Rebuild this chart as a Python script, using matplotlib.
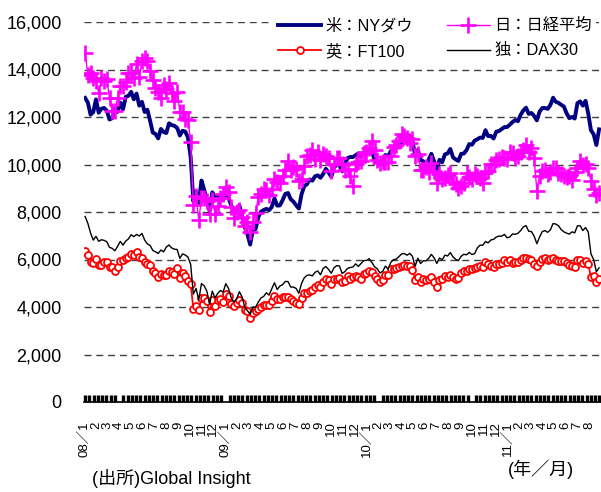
import numpy as np
import pandas as pd
import matplotlib
matplotlib.use("Agg")
import matplotlib.pyplot as plt
import matplotlib.dates as mdates

plt.rcParams['font.family'] = ['Liberation Sans', 'Noto Sans CJK JP']

# weekly closes (Fridays), Jan 2008 - Aug 2011
weeks = pd.date_range('2008-01-04', '2011-08-26', freq='W-FRI')

dow = [
    # 2008
    12800, 12606, 12099, 12207, 12743, 12182, 12348, 12381, 12266, 11894, 11951, 12361, 12216,
    12609, 12325, 12849, 12891, 13058, 12745, 12986, 12480, 12638, 12209, 12307, 11843, 11346,
    11288, 11100, 11496, 11370, 11326, 11734, 11659, 11628, 11543, 11220, 11421, 11388, 11143,
    10325, 8451, 8852, 8378, 9325, 8943, 8497, 8046, 8829, 8635, 8629, 8579, 8515,
    # 2009
    9034, 8599, 8281, 8077, 8000, 8280, 7850, 7366, 7063, 6627, 7224, 7278, 7776,
    8018, 8083, 8131, 8076, 8212, 8575, 8268, 8277, 8500, 8764, 8799, 8539, 8438,
    8280, 8146, 8743, 9093, 9171, 9370, 9321, 9505, 9544, 9441, 9605, 9820, 9665,
    9487, 9865, 9995, 9972, 9713, 10023, 10270, 10318, 10310, 10388, 10471, 10329, 10520,
    # 2010
    10428, 10618, 10610, 10173, 10067, 10012, 10099, 10402, 10325, 10566, 10625, 10742, 10850,
    10927, 10997, 11019, 11204, 11009, 10380, 10620, 10193, 10137, 9931, 10211, 10450, 10144,
    9800, 10198, 10097, 10425, 10466, 10654, 10303, 10213, 10150, 10448, 10462, 10607, 10860,
    10830, 11006, 11063, 11133, 11118, 11445, 11193, 11204, 11093, 11382, 11410, 11492, 11573, 11578,
    # 2011
    11675, 11787, 11871, 11824, 12092, 12273, 12391, 12130, 12170, 12044, 11859, 12221,
    12377, 12380, 12342, 12505, 12811, 12638, 12596, 12512, 12441, 12151, 11952, 12004, 11934,
    12582, 12657, 12480, 12681, 12143, 11444, 11269, 10818, 11480,
]

nikkei = [
    # 2008
    14691, 13764, 13861, 13629, 13497, 13017, 13622, 13500, 13603, 12782, 12241, 12260, 12821,
    13294, 13323, 13476, 13863, 13849, 13655, 14219, 13690, 14338, 14489, 14355, 13942, 13544,
    13237, 13039, 12803, 13334, 13168, 13431, 13019, 12666, 13073, 12212, 12214, 11920, 11893,
    10938, 8276, 8693, 7649, 8577, 8583, 8462, 7910, 8512, 7917, 8235, 8588, 8739,
    # 2009
    9043, 8836, 8230, 7745, 7994, 8076, 7779, 7416, 7568, 7173, 7569, 7945, 8627,
    8749, 8964, 8907, 8707, 8977, 9386, 9265, 9225, 9523, 9768, 10135, 9786, 9877,
    9816, 9287, 9395, 9944, 10357, 10412, 10597, 10238, 10534, 10187, 10444, 10370, 10265,
    9731, 10016, 10258, 10282, 10035, 9789, 9804, 9497, 9081, 10022, 10108, 10142, 10494,
    # 2010
    10546, 10681, 10982, 10590, 10198, 10057, 10092, 10123, 10126, 10368, 10751, 10824, 10996,
    11286, 11204, 11102, 10914, 11057, 10364, 10462, 9784, 9768, 9901, 9705, 10064, 9737,
    9203, 9585, 9408, 9431, 9537, 9642, 9253, 9180, 8991, 9114, 9239, 9626, 9471,
    9404, 9589, 9500, 9427, 9202, 9625, 9724, 10022, 10040, 10178, 10212, 10304, 10279, 10229,
    # 2011
    10541, 10499, 10274, 10360, 10543, 10605, 10842, 10526, 10693, 10254, 8900, 9536,
    9708, 9768, 9591, 9682, 9850, 9859, 9648, 9607, 9521, 9492, 9514, 9351, 9678,
    9868, 10137, 9974, 10010, 9833, 9299, 8963, 8719, 8800,
]

ftse = [
    # 2008
    6348, 6202, 5901, 5869, 6030, 5784, 5787, 5888, 5884, 5699, 5692, 5495, 5692,
    5947, 5965, 6056, 6091, 6215, 6205, 6304, 6087, 6053, 5906, 5803, 5756, 5518,
    5412, 5262, 5378, 5352, 5354, 5529, 5454, 5371, 5637, 5241, 5417, 5311, 5088,
    4980, 3932, 4063, 3883, 4377, 4365, 4233, 3781, 4288, 4049, 4280, 4327, 4217,
    # 2009
    4562, 4448, 4147, 4052, 4150, 4292, 4189, 3889, 3830, 3530, 3754, 3843, 3898,
    4013, 4093, 4086, 4079, 4243, 4462, 4349, 4345, 4418, 4439, 4441, 4345, 4241,
    4189, 4128, 4391, 4577, 4608, 4694, 4729, 4851, 4908, 4851, 5042, 5190, 5140,
    4988, 5162, 5190, 5237, 5045, 5105, 5296, 5195, 5245, 5322, 5261, 5197, 5402,
    # 2010
    5413, 5534, 5455, 5296, 5189, 5060, 5142, 5358, 5355, 5600, 5605, 5650, 5703,
    5744, 5789, 5744, 5723, 5553, 5123, 5262, 5063, 5188, 5126, 5163, 5250, 5046,
    4838, 5132, 5159, 5313, 5258, 5333, 5276, 5195, 5201, 5440, 5501, 5508, 5598,
    5592, 5657, 5704, 5741, 5675, 5875, 5796, 5732, 5669, 5812, 5808, 5872, 5996, 5900,
    # 2011
    5985, 5863, 5896, 5881, 5997, 6063, 6082, 6001, 5990, 5829, 5718, 5900,
    6009, 6055, 5996, 6022, 6070, 5976, 5925, 5948, 5938, 5855, 5765, 5714, 5697,
    5990, 5990, 5843, 5935, 5815, 5247, 5320, 5040, 5200,
]

dax = [
    # 2008
    7808, 7520, 7115, 6816, 6975, 6767, 6832, 6806, 6748, 6513, 6468, 6366, 6559,
    6763, 6605, 6778, 6865, 7044, 6963, 7054, 6988, 7097, 6820, 6655, 6597, 6385,
    6322, 6253, 6401, 6322, 6523, 6612, 6486, 6434, 6422, 6049, 6235, 6189, 6104,
    5797, 4544, 4782, 4296, 4988, 4892, 4663, 4127, 4669, 4381, 4572, 4696, 4629,
    # 2009
    4983, 4783, 4386, 4215, 4338, 4644, 4427, 4001, 3844, 3695, 4000, 3993, 4203,
    4381, 4446, 4599, 4501, 4770, 5021, 4735, 4885, 4941, 5077, 5070, 4839, 4839,
    4781, 4578, 4990, 5229, 5332, 5352, 5309, 5462, 5517, 5355, 5624, 5703, 5581,
    5419, 5654, 5742, 5730, 5415, 5488, 5624, 5663, 5685, 5817, 5709, 5831, 5957,
    # 2010
    5957, 6037, 5875, 5696, 5608, 5434, 5500, 5722, 5598, 5877, 5995, 6013, 6121,
    6235, 6250, 6180, 6259, 6136, 5716, 6056, 5829, 5947, 5939, 6050, 6216, 6071,
    5835, 6066, 5983, 6183, 6148, 6291, 6110, 6005, 5951, 6134, 6219, 6197, 6299,
    6211, 6247, 6491, 6605, 6601, 6754, 6702, 6823, 6848, 6947, 6985, 6982, 7057, 6914,
    # 2011
    6947, 7076, 7062, 7102, 7217, 7371, 7426, 7185, 7178, 6982, 6664, 6946,
    7176, 7217, 7144, 7249, 7514, 7492, 7423, 7257, 7164, 7109, 7069, 7165, 7121,
    7419, 7419, 7220, 7344, 7158, 6236, 5997, 5480, 5650,
]

labels = ['米：NYダウ', '日：日経平均', '英：FT100', '独：DAX30']
y_ticks = np.arange(0, 16001, 2000)
months = pd.date_range('2008-01-01', '2011-08-01', freq='MS')
month_labels = [f'{m.year % 100:02d}／1' if m.month == 1 else str(m.month) for m in months]

fig = plt.figure(figsize=(6.01, 4.92), dpi=100)
ax = fig.add_axes([84 / 601, 90 / 492, 517 / 601, 380 / 492])

ln_dow, = ax.plot(weeks, dow, color='#000080', lw=2.8, zorder=3)
ln_nik, = ax.plot(weeks, nikkei, color='#FF00FF', lw=1.0, marker='+', ms=12, mew=1.9, zorder=4)
ln_ftse, = ax.plot(weeks, ftse, color='#FF0000', lw=1.3, marker='o', ms=5, mew=1.3,
                   mfc='white', zorder=5)
ln_dax, = ax.plot(weeks, dax, color='black', lw=1.0, zorder=6)

ax.set_ylim(0, 16000)
ax.set_xlim(pd.Timestamp('2008-01-01'), pd.Timestamp('2011-08-31'))

ax.set_yticks(y_ticks)
ax.set_yticklabels([f'{v:,}' for v in y_ticks], fontsize=13)
ax.tick_params(axis='y', length=0, pad=16)

ax.set_xticks(months)
ax.set_xticklabels(month_labels, rotation=90, fontsize=9.5, va='top', ha='center')
ax.xaxis.set_minor_locator(mdates.DayLocator(interval=11))
ax.tick_params(axis='x', which='major', length=0, pad=14)
ax.tick_params(axis='x', which='minor', direction='in', length=5, width=2.4, color='black')

ax.grid(axis='y', color='#404040', lw=1.0, ls=(0, (5, 3.5)))
ax.set_axisbelow(True)
for side in ['left', 'right', 'top']:
    ax.spines[side].set_visible(False)
ax.spines['bottom'].set_linewidth(1.2)

# legend fills column-wise: Dow / FTSE on the left, Nikkei / DAX on the right
handles = [ln_dow, ln_ftse, ln_nik, ln_dax]
leg = fig.legend(handles, [labels[0], labels[2], labels[1], labels[3]], ncol=2,
                 loc='upper left', bbox_to_anchor=(265 / 601, 1 - 5 / 492),
                 fontsize=11.7, frameon=True, facecolor='white', edgecolor='none',
                 fancybox=False, framealpha=1, numpoints=1, handlelength=2.65,
                 handletextpad=0.25, columnspacing=2.1, labelspacing=0.6, borderpad=0.3)

fig.text(92 / 601, 1 - 478 / 492, '(出所)Global Insight', fontsize=13, va='center', ha='left')
fig.text(508 / 601, 1 - 469 / 492, '(年／月)', fontsize=13, va='center', ha='left')

fig.savefig('out.png', dpi=100)
